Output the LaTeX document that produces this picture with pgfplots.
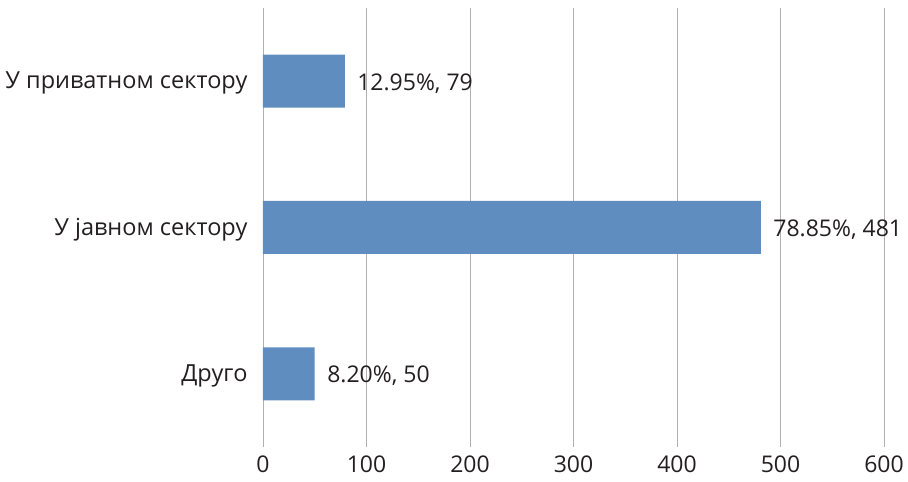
\documentclass[border=0pt]{standalone}
\usepackage{fontspec}
\setmainfont{Open Sans}
\usepackage{pgfplots}
\pgfplotsset{compat=1.18}
\usepackage{pgfplotstable}
\definecolor{barblue}{RGB}{96,141,192}
\definecolor{gridgray}{RGB}{176,176,176}
\definecolor{txt}{RGB}{35,31,32}
\pgfplotstableread[col sep=comma]{
y,v,lab
0,50,{8.20\%, 50}
1,481,{78.85\%, 481}
2,79,{12.95\%, 79}
}\datatab
\begin{document}
\begin{tikzpicture}[x=1pt,y=1pt]
\begin{axis}[
  name=ax,
  scale only axis,
  width=621pt, height=439pt,
  xbar, bar width=53pt,
  xmin=0, xmax=600,
  ymin=-0.5, ymax=2.5,
  xtick={0,100,...,600},
  ytick={0,1,2},
  yticklabels={Друго,У јавном сектору,У приватном сектору},
  axis line style={draw=none},
  major tick length=0pt,
  xmajorgrids, grid style={gridgray, line width=0.8pt},
  every tick label/.append style={font=\fontsize{23}{27}\selectfont, text=txt},
  /pgf/number format/assume math mode=true,
  xticklabel style={yshift=-5pt},
  yticklabel style={xshift=-12pt, yshift=-2pt, font=\fontsize{23.5}{28}\selectfont},
  nodes near coords,
  point meta=explicit symbolic,
  every node near coord/.append style={font=\fontsize{23}{27}\selectfont, text=txt, anchor=west, xshift=9pt, yshift=-2pt},
  clip=false,
]
\addplot[fill=barblue, draw=none] table[x=v, y=y, meta=lab] {\datatab};
\end{axis}
\pgfresetboundingbox
\path (ax.south west) ++(-263pt,-34pt) coordinate (bl);
\path (ax.north east) ++(24pt,8pt) coordinate (tr);
\path[use as bounding box] (bl) rectangle (tr);
\end{tikzpicture}
\end{document}
